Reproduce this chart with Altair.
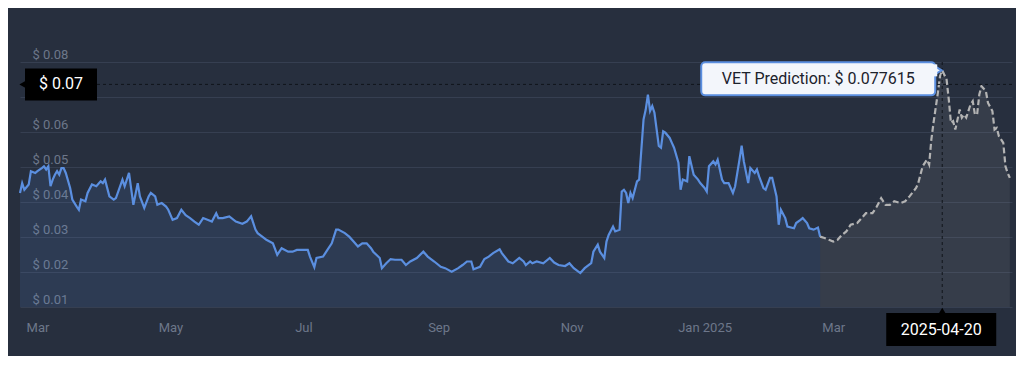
import altair as alt
import pandas as pd

# ---------------- data ----------------
hist_dates = [
    "2024-02-22", "2024-02-23", "2024-02-24", "2024-02-26", "2024-02-27", "2024-02-29",
    "2024-03-01", "2024-03-03", "2024-03-04", "2024-03-05", "2024-03-06", "2024-03-07",
    "2024-03-08", "2024-03-09", "2024-03-10", "2024-03-11", "2024-03-12", "2024-03-13",
    "2024-03-14", "2024-03-16", "2024-03-17", "2024-03-19", "2024-03-20", "2024-03-21",
    "2024-03-23", "2024-03-24", "2024-03-26", "2024-03-28", "2024-03-30", "2024-03-31",
    "2024-04-01", "2024-04-03", "2024-04-05", "2024-04-06", "2024-04-09", "2024-04-10",
    "2024-04-12", "2024-04-14", "2024-04-16", "2024-04-17", "2024-04-19", "2024-04-21",
    "2024-04-22", "2024-04-24", "2024-04-25", "2024-04-27", "2024-04-29", "2024-04-30",
    "2024-05-02", "2024-05-04", "2024-05-06", "2024-05-08", "2024-05-10", "2024-05-12",
    "2024-05-14", "2024-05-16", "2024-05-18", "2024-05-20", "2024-05-22", "2024-05-23",
    "2024-05-25", "2024-05-28", "2024-05-31", "2024-06-03", "2024-06-05", "2024-06-07",
    "2024-06-09", "2024-06-10", "2024-06-13", "2024-06-14", "2024-06-17", "2024-06-19",
    "2024-06-21", "2024-06-24", "2024-06-26", "2024-06-28", "2024-06-30", "2024-07-03",
    "2024-07-04", "2024-07-06", "2024-07-07", "2024-07-10", "2024-07-12", "2024-07-14",
    "2024-07-16", "2024-07-17", "2024-07-20", "2024-07-22", "2024-07-24", "2024-07-26",
    "2024-07-28", "2024-07-30", "2024-08-01", "2024-08-02", "2024-08-05", "2024-08-06",
    "2024-08-08", "2024-08-10", "2024-08-12", "2024-08-15", "2024-08-17", "2024-08-19",
    "2024-08-22", "2024-08-25", "2024-08-27", "2024-08-30", "2024-09-02", "2024-09-04",
    "2024-09-07", "2024-09-10", "2024-09-12", "2024-09-14", "2024-09-16", "2024-09-17",
    "2024-09-20", "2024-09-22", "2024-09-24", "2024-09-26", "2024-09-29", "2024-09-30",
    "2024-10-03", "2024-10-05", "2024-10-08", "2024-10-10", "2024-10-11", "2024-10-13",
    "2024-10-14", "2024-10-16", "2024-10-19", "2024-10-22", "2024-10-24", "2024-10-26",
    "2024-10-29", "2024-10-31", "2024-11-02", "2024-11-05", "2024-11-07", "2024-11-10",
    "2024-11-11", "2024-11-13", "2024-11-14", "2024-11-16", "2024-11-17", "2024-11-18",
    "2024-11-20", "2024-11-21", "2024-11-23", "2024-11-24", "2024-11-25", "2024-11-26",
    "2024-11-27", "2024-11-28", "2024-11-29", "2024-12-01", "2024-12-02", "2024-12-04",
    "2024-12-05", "2024-12-06", "2024-12-07", "2024-12-08", "2024-12-09", "2024-12-11",
    "2024-12-12", "2024-12-13", "2024-12-14", "2024-12-16", "2024-12-17", "2024-12-18",
    "2024-12-20", "2024-12-21", "2024-12-22", "2024-12-24", "2024-12-25", "2024-12-27",
    "2024-12-29", "2024-12-30", "2025-01-01", "2025-01-02", "2025-01-03", "2025-01-05",
    "2025-01-06", "2025-01-07", "2025-01-09", "2025-01-10", "2025-01-12", "2025-01-14",
    "2025-01-15", "2025-01-17", "2025-01-18", "2025-01-19", "2025-01-21", "2025-01-22",
    "2025-01-24", "2025-01-25", "2025-01-26", "2025-01-28", "2025-01-29", "2025-01-31",
    "2025-02-01", "2025-02-03", "2025-02-04", "2025-02-05", "2025-02-07", "2025-02-08",
    "2025-02-11", "2025-02-12", "2025-02-14", "2025-02-15", "2025-02-17", "2025-02-18",
    "2025-02-20", "2025-02-22", "2025-02-23",
]
hist_values = [
    0.0426, 0.0454, 0.0435, 0.0450, 0.0488, 0.0483,
    0.0488, 0.0497, 0.0502, 0.0493, 0.0502, 0.0445,
    0.0464, 0.0478, 0.0488, 0.0478, 0.0497, 0.0497,
    0.0483, 0.0440, 0.0407, 0.0387, 0.0378, 0.0407,
    0.0402, 0.0426, 0.0450, 0.0445, 0.0459, 0.0454,
    0.0464, 0.0416, 0.0407, 0.0411, 0.0464, 0.0445,
    0.0483, 0.0392, 0.0454, 0.0416, 0.0383, 0.0416,
    0.0426, 0.0416, 0.0392, 0.0397, 0.0387, 0.0378,
    0.0349, 0.0354, 0.0378, 0.0362, 0.0354, 0.0344,
    0.0335, 0.0354, 0.0349, 0.0344, 0.0368, 0.0354,
    0.0354, 0.0359, 0.0344, 0.0338, 0.0344, 0.0359,
    0.0321, 0.0311, 0.0297, 0.0292, 0.0282, 0.0249,
    0.0268, 0.0258, 0.0258, 0.0263, 0.0263, 0.0263,
    0.0244, 0.0214, 0.0240, 0.0244, 0.0263, 0.0282,
    0.0321, 0.0321, 0.0311, 0.0301, 0.0287, 0.0273,
    0.0282, 0.0282, 0.0268, 0.0258, 0.0240, 0.0211,
    0.0225, 0.0237, 0.0235, 0.0235, 0.0220, 0.0230,
    0.0240, 0.0258, 0.0244, 0.0230, 0.0215, 0.0211,
    0.0201, 0.0211, 0.0220, 0.0230, 0.0230, 0.0208,
    0.0215, 0.0237, 0.0244, 0.0254, 0.0265, 0.0254,
    0.0230, 0.0225, 0.0240, 0.0230, 0.0220, 0.0230,
    0.0225, 0.0230, 0.0225, 0.0240, 0.0227, 0.0220,
    0.0217, 0.0225, 0.0211, 0.0197, 0.0211, 0.0225,
    0.0258, 0.0278, 0.0258, 0.0240, 0.0287, 0.0306,
    0.0330, 0.0316, 0.0321, 0.0430, 0.0435, 0.0426,
    0.0397, 0.0426, 0.0411, 0.0459, 0.0464, 0.0636,
    0.0664, 0.0707, 0.0660, 0.0674, 0.0655, 0.0560,
    0.0555, 0.0602, 0.0598, 0.0583, 0.0569, 0.0555,
    0.0512, 0.0435, 0.0464, 0.0459, 0.0531, 0.0478,
    0.0464, 0.0454, 0.0440, 0.0430, 0.0502, 0.0516,
    0.0507, 0.0521, 0.0464, 0.0454, 0.0454, 0.0426,
    0.0445, 0.0521, 0.0561, 0.0516, 0.0454, 0.0497,
    0.0483, 0.0493, 0.0473, 0.0440, 0.0435, 0.0469,
    0.0469, 0.0416, 0.0335, 0.0378, 0.0354, 0.0330,
    0.0325, 0.0340, 0.0349, 0.0354, 0.0340, 0.0325,
    0.0321, 0.0327, 0.0301,
]

pred_dates = [
    "2025-02-23", "2025-02-25", "2025-02-27", "2025-03-01", "2025-03-03", "2025-03-05",
    "2025-03-07", "2025-03-09", "2025-03-12", "2025-03-14", "2025-03-16", "2025-03-19",
    "2025-03-21", "2025-03-23", "2025-03-25", "2025-03-27", "2025-03-29", "2025-04-01",
    "2025-04-03", "2025-04-05", "2025-04-08", "2025-04-09", "2025-04-11", "2025-04-13",
    "2025-04-14", "2025-04-15", "2025-04-16", "2025-04-18", "2025-04-19", "2025-04-20",
    "2025-04-22", "2025-04-23", "2025-04-24", "2025-04-25", "2025-04-26", "2025-04-28",
    "2025-04-29", "2025-04-30", "2025-05-01", "2025-05-03", "2025-05-04", "2025-05-05",
    "2025-05-06", "2025-05-07", "2025-05-08", "2025-05-10", "2025-05-11", "2025-05-13",
    "2025-05-14", "2025-05-15", "2025-05-16", "2025-05-18", "2025-05-19", "2025-05-20",
    "2025-05-21",
]
pred_values = [
    0.0301, 0.0297, 0.0292, 0.0287, 0.0292, 0.0306,
    0.0316, 0.0335, 0.0340, 0.0354, 0.0368, 0.0368,
    0.0387, 0.0411, 0.0392, 0.0392, 0.0402, 0.0397,
    0.0402, 0.0416, 0.0440, 0.0454, 0.0502, 0.0521,
    0.0507, 0.0578, 0.0626, 0.0712, 0.0760, 0.077615,
    0.0750, 0.0693, 0.0626, 0.0631, 0.0607, 0.0664,
    0.0641, 0.0650, 0.0641, 0.0679, 0.0688, 0.0650,
    0.0650, 0.0707, 0.0731, 0.0717, 0.0683, 0.0660,
    0.0607, 0.0612, 0.0588, 0.0569, 0.0502, 0.0483,
    0.0469,
]

y_tick_values = [0.01, 0.02, 0.03, 0.04, 0.05, 0.06, 0.07, 0.08]
hidden_tick = 0.07  # covered by the cursor label in the reference
y_domain = [0.01, 0.09]
x_tick_months = [(2024, 3), (2024, 5), (2024, 7), (2024, 9), (2024, 11), (2025, 1), (2025, 3)]
x_start = (2024, 2, 22)
x_end = (2025, 5, 22)

cursor_date = "2025-04-20"
cursor_value = 0.077615
pointer_value = 0.0736
pointer_label = "$ 0.07"
date_label = "2025-04-20"
tooltip_label = "VET Prediction: $ 0.077615"

# ---------------- styling ----------------
BG = "#272f3e"
GRID = "#363f51"
LABEL = "#6d778a"
BLUE = "#5b8fe0"
PRED = "#b3b3b3"
FONT = "Roboto"

xscale = alt.Scale(
    type="utc",
    domain=[alt.DateTime(year=x_start[0], month=x_start[1], date=x_start[2], utc=True),
            alt.DateTime(year=x_end[0], month=x_end[1], date=x_end[2], utc=True)],
)
yscale = alt.Scale(domain=y_domain, zero=False, nice=False)

xaxis = alt.Axis(
    values=[alt.DateTime(year=y, month=m, date=1, utc=True) for y, m in x_tick_months],
    labelExpr="utcmonth(datum.value) == 0 ? utcFormat(datum.value, '%b %Y') : utcFormat(datum.value, '%b')",
    domain=False, ticks=False, tickSize=0, grid=False, title=None,
    labelColor=LABEL, labelFontSize=13, labelFont=FONT,
    labelBaseline="alphabetic", labelPadding=24, labelFlush=False,
)
yaxis = alt.Axis(
    values=y_tick_values,
    labelExpr=f"abs(datum.value - {hidden_tick}) < 1e-6 ? '' : '$ ' + format(datum.value, '.2f')",
    domain=False, ticks=False, tickSize=0, grid=True, gridColor=GRID, gridWidth=1,
    title=None, labelColor=LABEL, labelFontSize=13, labelFont=FONT,
    labelAlign="left", labelPadding=-12, labelBaseline="alphabetic", labelOffset=-4,
)

X = alt.X("date:T", scale=xscale, axis=xaxis)
Y = alt.Y("value:Q", scale=yscale, axis=yaxis)

hist = pd.DataFrame({"date": hist_dates, "value": hist_values})
pred = pd.DataFrame({"date": pred_dates, "value": pred_values})

hist_area = alt.Chart(hist).mark_area(color=BLUE, opacity=0.13).encode(
    x=X, y=Y, y2=alt.Y2(datum=y_domain[0]))
pred_area = alt.Chart(pred).mark_area(color="#a8a8a8", opacity=0.12).encode(
    x=X, y=Y, y2=alt.Y2(datum=y_domain[0]))
hist_line = alt.Chart(hist).mark_line(color=BLUE, strokeWidth=2.2).encode(x=X, y=Y)
pred_line = alt.Chart(pred).mark_line(color=PRED, strokeWidth=2.2, strokeDash=[6, 3]).encode(x=X, y=Y)

vrule_df = pd.DataFrame({"date": [cursor_date], "value": [y_tick_values[-1]], "bottom": [y_domain[0]]})
vrule = alt.Chart(vrule_df).mark_rule(color="#10141b", strokeDash=[3, 3], strokeWidth=1).encode(
    x=X, y=Y, y2=alt.Y2("bottom:Q"))

hrule_df = pd.DataFrame({"value": [pointer_value]})
hrule = alt.Chart(hrule_df).mark_rule(color="#10141b", strokeDash=[3, 3], strokeWidth=1).encode(y=Y)

# y-axis cursor label
ylab_df = pd.DataFrame({"date": ["2024-02-22"], "value": [pointer_value], "label": [pointer_label]})
ylab_tri = alt.Chart(ylab_df).mark_point(shape="triangle-left", filled=True, color="#000000",
                                         opacity=1, size=70, xOffset=3).encode(x=X, y=Y)
ylab_box = alt.Chart(ylab_df).mark_rect(color="#000000", xOffset=5, x2Offset=77,
                                        yOffset=-16, y2Offset=16).encode(
    x=X, x2=alt.X2("date:T"), y=Y, y2=alt.Y2("value:Q"))
ylab_txt = alt.Chart(ylab_df).mark_text(color="#ffffff", font=FONT, fontSize=16, dx=41,
                                        align="center", baseline="middle").encode(
    x=X, y=Y, text="label:N")

# x-axis cursor label
xlab_df = pd.DataFrame({"date": [cursor_date], "value": [y_domain[0]], "label": [date_label]})
xlab_tri = alt.Chart(xlab_df).mark_point(shape="triangle-up", filled=True, color="#000000",
                                         opacity=1, size=60, yOffset=4).encode(x=X, y=Y)
xlab_box = alt.Chart(xlab_df).mark_rect(color="#000000", xOffset=-56, x2Offset=54,
                                        yOffset=6, y2Offset=39).encode(
    x=X, x2=alt.X2("date:T"), y=Y, y2=alt.Y2("value:Q"))
xlab_txt = alt.Chart(xlab_df).mark_text(color="#ffffff", font=FONT, fontSize=16, dx=-1, dy=23,
                                        align="center", baseline="middle").encode(
    x=X, y=Y, text="label:N")

# tooltip
tip_df = pd.DataFrame({"date": [cursor_date], "value": [cursor_value], "label": [tooltip_label]})
tip_tri = alt.Chart(tip_df).mark_point(shape="triangle-right", filled=True, fill="#f3f6fb",
                                       stroke=BLUE, strokeWidth=2, opacity=1, size=110,
                                       xOffset=-5, yOffset=0).encode(x=X, y=Y)
tip_box = alt.Chart(tip_df).mark_rect(fill="#f3f6fb", stroke=BLUE, strokeWidth=2, cornerRadius=4,
                                      xOffset=-241, x2Offset=-7, yOffset=-8, y2Offset=25).encode(
    x=X, x2=alt.X2("date:T"), y=Y, y2=alt.Y2("value:Q"))
tip_cover = alt.Chart(tip_df).mark_rect(fill="#f3f6fb", xOffset=-9, x2Offset=-5,
                                        yOffset=-6, y2Offset=6).encode(
    x=X, x2=alt.X2("date:T"), y=Y, y2=alt.Y2("value:Q"))
tip_txt = alt.Chart(tip_df).mark_text(color="#1c222c", font=FONT, fontSize=16, dx=-124, dy=8.5,
                                      align="center", baseline="middle").encode(
    x=X, y=Y, text="label:N")

chart = alt.layer(
    hist_area, pred_area, hist_line, pred_line, vrule, hrule,
    ylab_tri, ylab_box, ylab_txt,
    xlab_tri, xlab_box, xlab_txt,
    tip_tri, tip_box, tip_cover, tip_txt,
).properties(
    width=992, height=280,
    padding={"left": 12, "top": 19, "right": 4, "bottom": 49},
    autosize=alt.AutoSizeParams(type="none"),
    background=BG,
).configure_view(stroke=None)

chart.save("out.html", embed_options={"renderer": "svg", "actions": False})
